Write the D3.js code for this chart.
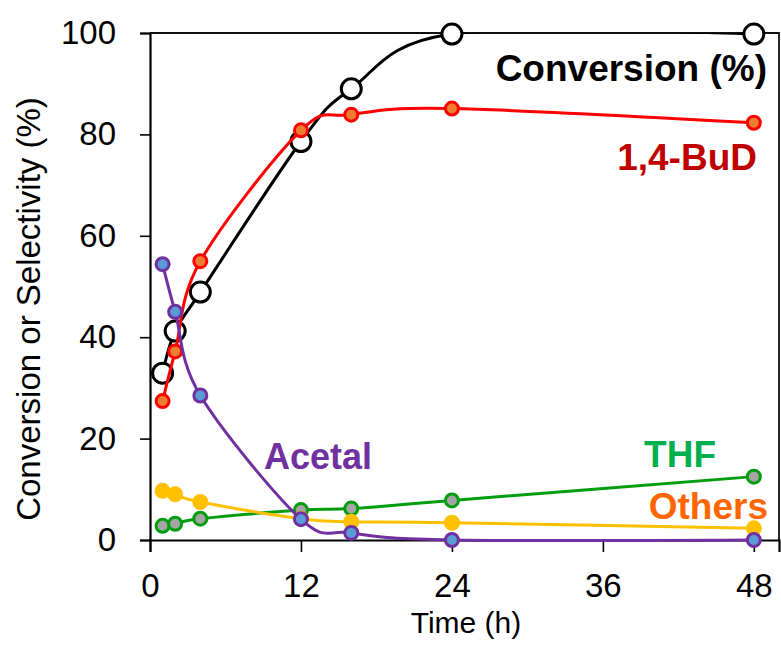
<!DOCTYPE html>
<html>
<head>
<meta charset="utf-8">
<script src="https://cdn.jsdelivr.net/npm/d3@7"></script>
<style>
  html, body { margin: 0; padding: 0; background: #fff; }
  svg { display: block; font-family: Arial, "Liberation Sans", sans-serif; }
</style>
</head>
<body>
<svg id="chart" width="781" height="648"></svg>
<script>
// Reaction time points (h)
const times = [1, 2, 4, 12, 16, 24, 48];

// Conversion and product selectivities (%)
const conversion = [32.9, 41.2, 48.9, 78.6, 89.0, 99.8, 99.8];
const butanediol = [27.4, 37.2, 55.0, 80.8, 83.9, 85.1, 82.3];
const acetal     = [54.4, 45.0, 28.5, 4.1, 1.4, 0.0, 0.0];
const thf        = [2.8, 3.2, 4.2, 5.9, 6.2, 7.8, 12.5];
const others     = [9.7, 9.0, 7.5, 4.2, 3.6, 3.4, 2.3];

const xTicks = [0, 12, 24, 36, 48];
const yTicks = [0, 20, 40, 60, 80, 100];

(function () {
  const svg = d3.select("#chart");
  const plotLeft = 150, plotRight = 779, plotTop = 33, plotBottom = 540;

  const x = d3.scaleLinear().domain([0, 50]).range([plotLeft, plotRight]);
  const y = d3.scaleLinear().domain([0, 100]).range([plotBottom, plotTop]);

  // plot frame (top and right edges)
  svg.append("path")
    .attr("d", `M${plotLeft},${plotTop}H${plotRight}V${plotBottom}`)
    .attr("fill", "none").attr("stroke", "#111").attr("stroke-width", 1.8);

  // y axis
  const yAxis = svg.append("g")
    .attr("transform", `translate(${plotLeft},0)`)
    .call(d3.axisLeft(y).tickValues(yTicks).tickSize(10).tickPadding(24));
  yAxis.select(".domain").attr("stroke", "#000").attr("stroke-width", 2.2);
  yAxis.selectAll(".tick line").attr("stroke", "#000").attr("stroke-width", 1.6);
  yAxis.selectAll(".tick text")
    .attr("font-size", 33).attr("fill", "#000")
    .attr("font-family", "Arial, 'Liberation Sans', sans-serif");

  // x axis
  const xAxis = svg.append("g")
    .attr("transform", `translate(0,${plotBottom})`)
    .call(d3.axisBottom(x).tickValues(xTicks).tickSize(12).tickPadding(22));
  xAxis.select(".domain").attr("stroke", "#000").attr("stroke-width", 2.2);
  xAxis.selectAll(".tick line").attr("stroke", "#000").attr("stroke-width", 1.6);
  xAxis.selectAll(".tick text")
    .attr("font-size", 33).attr("fill", "#000")
    .attr("font-family", "Arial, 'Liberation Sans', sans-serif");

  // axis titles
  svg.append("text")
    .attr("transform", "translate(40,309) rotate(-90)")
    .attr("text-anchor", "middle")
    .attr("font-size", 33)
    .text("Conversion or Selectivity (%)");

  svg.append("text")
    .attr("x", 466).attr("y", 633)
    .attr("text-anchor", "middle")
    .attr("font-size", 30)
    .text("Time (h)");

  // clip curves to the plot region
  svg.append("clipPath").attr("id", "plot-clip")
    .append("rect")
    .attr("x", plotLeft).attr("y", plotTop)
    .attr("width", 781 - plotLeft).attr("height", plotBottom - plotTop + 4);

  const series = [
    { name: "conversion", values: conversion, line: "#000000", fill: "#ffffff", r: 10 },
    { name: "butanediol", values: butanediol, line: "#ff0000", fill: "#ed7d31", r: 6.5 },
    { name: "thf",        values: thf,        line: "#009e0f", fill: "#a5a5a5", r: 6.5 },
    { name: "others",     values: others,     line: "#ffc000", fill: "#ffc000", r: 6.5 },
    { name: "acetal",     values: acetal,     line: "#7030a0", fill: "#5b9bd5", r: 6.5 }
  ];

  // smoothed line through the measured points
  const line = d3.line()
    .x(d => x(d[0]))
    .y(d => y(d[1]))
    .curve(d3.curveCatmullRom.alpha(0));

  series.forEach(s => {
    const pts = times.map((t, i) => [t, s.values[i]]);
    const g = svg.append("g").attr("class", s.name);
    g.append("path")
      .attr("d", line(pts))
      .attr("fill", "none")
      .attr("stroke", s.line)
      .attr("stroke-width", 3)
      .attr("clip-path", "url(#plot-clip)");
    g.selectAll("circle")
      .data(pts)
      .join("circle")
      .attr("cx", d => x(d[0]))
      .attr("cy", d => y(d[1]))
      .attr("r", s.r)
      .attr("fill", s.fill)
      .attr("stroke", s.line)
      .attr("stroke-width", 3);
  });

  // series labels
  const labels = [
    { text: "Conversion (%)", x: 767, y: 81,  color: "#000000", anchor: "end", size: 37 },
    { text: "1,4-BuD",        x: 757, y: 170, color: "#c00000", anchor: "end", size: 37 },
    { text: "Acetal",         x: 264, y: 469, color: "#7030a0", anchor: "start", size: 36 },
    { text: "THF",            x: 716, y: 467, color: "#00b050", anchor: "end", size: 37 },
    { text: "Others",         x: 768, y: 519, color: "#ff6600", anchor: "end", size: 37 }
  ];
  svg.selectAll("text.series-label")
    .data(labels)
    .join("text")
    .attr("class", "series-label")
    .attr("x", d => d.x).attr("y", d => d.y)
    .attr("text-anchor", d => d.anchor)
    .attr("fill", d => d.color)
    .attr("font-size", d => d.size)
    .attr("font-weight", "bold")
    .text(d => d.text);
})();
</script>
</body>
</html>
